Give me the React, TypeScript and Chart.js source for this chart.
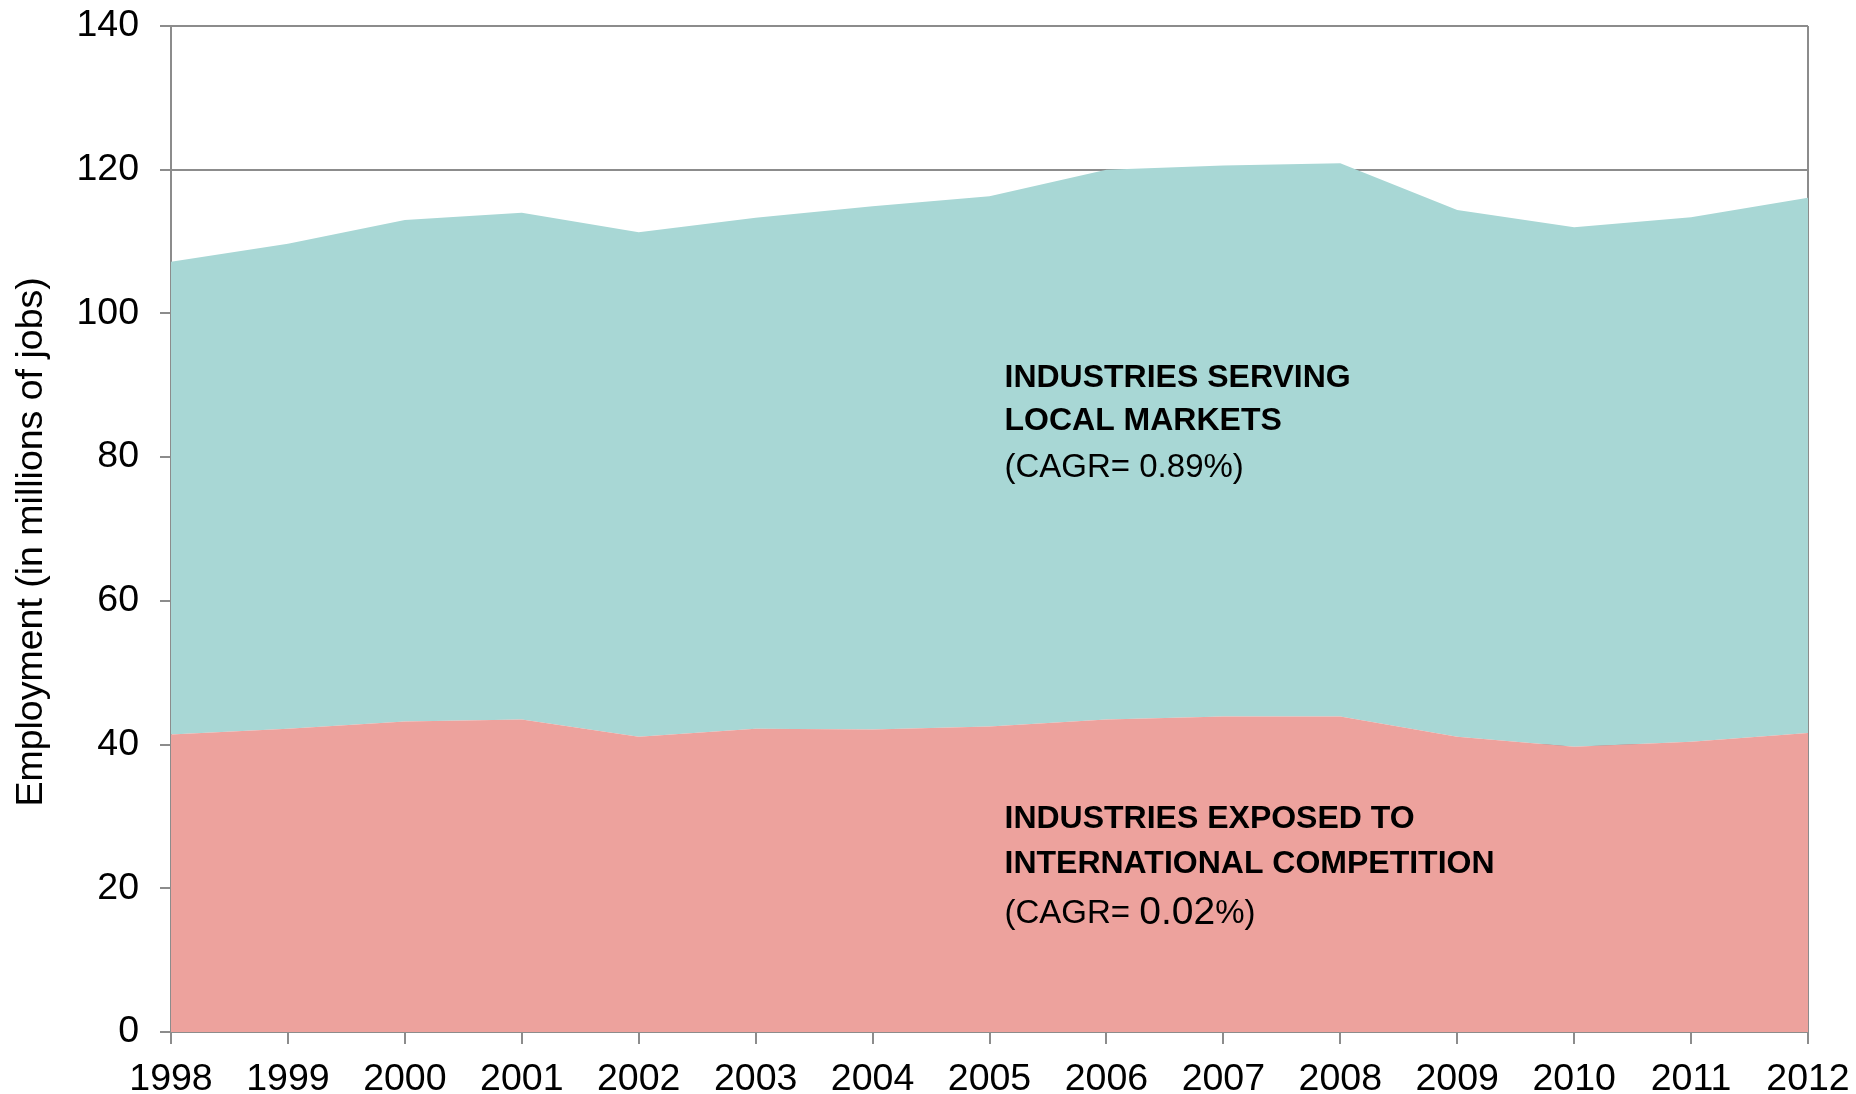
import React, { useEffect, useRef } from 'react';
import { Chart, registerables } from 'chart.js';

Chart.register(...registerables);

const years = ['1998', '1999', '2000', '2001', '2002', '2003', '2004', '2005', '2006', '2007', '2008', '2009', '2010', '2011', '2012'];
const internationalJobs = [41.4, 42.2, 43.2, 43.5, 41.1, 42.2, 42.1, 42.5, 43.5, 43.9, 43.9, 41.1, 39.7, 40.4, 41.6];
const localJobs = [65.8, 67.5, 69.8, 70.5, 70.2, 71.1, 72.8, 73.8, 76.5, 76.7, 77.0, 73.3, 72.3, 73.0, 74.5];

const yTitle = 'Employment (in millions of jobs)';
const localLabelLines = ['INDUSTRIES SERVING', 'LOCAL MARKETS'];
const localCagr = ['(CAGR= ', '0.89', '%)'];
const intlLabelLines = ['INDUSTRIES EXPOSED TO', 'INTERNATIONAL COMPETITION'];
const intlCagr = ['(CAGR= ', '0.02', '%)'];

const AXIS_GRAY = '#8c8c8c';
const TEAL = '#a8d7d5';
const SALMON = '#eda29d';
const FONT = '"Liberation Sans", Arial, sans-serif';

const labelPlugin = {
  id: 'areaLabels',
  afterDatasetsDraw(chart: any) {
    const { ctx, scales } = chart;
    const xs = scales.x;
    const ys = scales.y;
    const left = xs.getPixelForValue(7) + 15;
    const drawBlock = (lines: string[], cagr: string[], yVals: number[], numSize: number) => {
      ctx.save();
      ctx.fillStyle = '#000';
      ctx.textAlign = 'left';
      ctx.textBaseline = 'middle';
      ctx.font = `bold 32px ${FONT}`;
      lines.forEach((t, i) => ctx.fillText(t, left, ys.getPixelForValue(yVals[i])));
      const cy = ys.getPixelForValue(yVals[2]);
      let cx = left;
      ctx.font = `33px ${FONT}`;
      ctx.fillText(cagr[0], cx, cy);
      cx += ctx.measureText(cagr[0]).width;
      ctx.font = `${numSize}px ${FONT}`;
      ctx.fillText(cagr[1], cx, cy);
      cx += ctx.measureText(cagr[1]).width;
      ctx.font = `33px ${FONT}`;
      ctx.fillText(cagr[2], cx, cy);
      ctx.restore();
    };
    drawBlock(localLabelLines, localCagr, [91.0, 85.0, 78.5], 33);
    drawBlock(intlLabelLines, intlCagr, [29.6, 23.4, 16.5], 39);

    // y-axis title
    ctx.save();
    ctx.fillStyle = '#000';
    ctx.font = `37.5px ${FONT}`;
    ctx.textAlign = 'center';
    ctx.textBaseline = 'middle';
    ctx.translate(32, ys.getPixelForValue(68.2));
    ctx.rotate(-Math.PI / 2);
    ctx.fillText(yTitle, 0, 0);
    ctx.restore();
  },
};

export default function App() {
  const canvasRef = useRef<HTMLCanvasElement | null>(null);

  useEffect(() => {
    if (!canvasRef.current) return;
    const chart = new Chart(canvasRef.current, {
      type: 'line',
      data: {
        labels: years,
        datasets: [
          {
            label: 'Industries exposed to international competition',
            data: internationalJobs,
            backgroundColor: SALMON,
            borderColor: SALMON,
            borderWidth: 0,
            pointRadius: 0,
            fill: 'origin',
            tension: 0,
          },
          {
            label: 'Industries serving local markets',
            data: localJobs,
            backgroundColor: TEAL,
            borderColor: TEAL,
            borderWidth: 0,
            pointRadius: 0,
            fill: '-1',
            tension: 0,
          },
        ],
      },
      options: {
        responsive: false,
        animation: false,
        devicePixelRatio: 1,
        layout: { padding: { left: 0, right: 48, top: 26, bottom: 0 } },
        plugins: {
          legend: { display: false },
          tooltip: { enabled: false },
        },
        scales: {
          x: {
            type: 'category',
            offset: false,
            grid: {
              color: (c: any) => (c.index === years.length - 1 ? AXIS_GRAY : 'rgba(0,0,0,0)'),
              lineWidth: 2,
              tickColor: AXIS_GRAY,
              tickWidth: 2,
              tickLength: 12,
              drawOnChartArea: true,
            },
            border: { display: true, color: AXIS_GRAY, width: 2 },
            ticks: {
              color: '#000',
              font: { family: FONT, size: 37.5 },
              padding: 13,
              maxRotation: 0,
              autoSkip: false,
            },
            afterFit: (scale: any) => {
              scale.height = 62;
              scale.paddingLeft = 0;
              scale.paddingRight = 0;
            },
          },
          y: {
            stacked: true,
            min: 0,
            max: 140,
            grid: {
              color: AXIS_GRAY,
              lineWidth: 2,
              tickLength: 11,
              tickColor: AXIS_GRAY,
              tickWidth: 2,
            },
            border: { display: true, color: AXIS_GRAY, width: 2 },
            ticks: {
              stepSize: 20,
              color: '#000',
              font: { family: FONT, size: 37.5 },
              padding: 21,
            },
            title: { display: false },
            afterFit: (scale: any) => {
              scale.width = 171;
              scale.paddingTop = 0;
              scale.paddingBottom = 0;
            },
          },
        },
      },
      plugins: [labelPlugin],
    });
    return () => chart.destroy();
  }, []);

  return (
    <div style={{ position: 'fixed', left: 0, top: 0, width: 1856, height: 1094, overflow: 'hidden', background: '#fff' }}>
      <canvas ref={canvasRef} width={1856} height={1094} style={{ display: 'block' }} />
    </div>
  );
}
